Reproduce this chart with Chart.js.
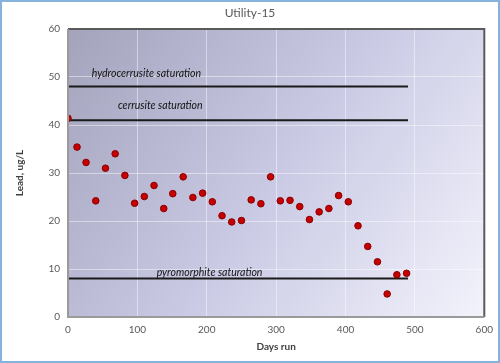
<!DOCTYPE html>
<html>
<head>
<meta charset="utf-8">
<script src="https://cdn.jsdelivr.net/npm/chart.js@4"></script>
<style>
  html, body { margin: 0; padding: 0; background: #fff; }
  #wrap { width: 500px; height: 363px; }
</style>
</head>
<body>
<div id="wrap"><canvas id="chart" width="500" height="363"></canvas></div>
<script>
const days = [0, 13, 26, 40, 54, 68, 82, 96, 110, 124, 138, 151, 166, 180, 194, 208, 222, 236,
  250, 264, 278, 292, 306, 320, 334, 348, 362, 376, 390, 404, 418, 432, 446, 460, 474, 488];
const lead = [41.4, 35.4, 32.2, 24.2, 31.0, 34.0, 29.5, 23.7, 25.1, 27.4, 22.6, 25.7, 29.2, 24.9,
  25.8, 24.0, 21.1, 19.8, 20.1, 24.4, 23.6, 29.2, 24.2, 24.3, 23.0, 20.3, 21.9, 22.6, 25.3, 24.0,
  19.0, 14.7, 11.5, 4.8, 8.8, 9.1];

const satNames = ["hydrocerrusite saturation", "cerrusite saturation", "pyromorphite saturation"];
const satLevels = [48, 41, 8];
const satEnd = 490;
// where each label sits (days, ug/L), centre of text
const satLabelDays = [113, 133, 204];
const satLabelLead = [50.7, 44, 9.2];

const chartTitle = "Utility-15";
const ink = "#595959";

const satSets = satLevels.map(v => ({
  type: "line",
  data: [{ x: 0, y: v }, { x: satEnd, y: v }],
  borderColor: "#1a1a1a",
  borderWidth: 2,
  pointRadius: 0,
  showLine: true,
  order: 2
}));

const frame = {
  id: "frame",
  beforeDraw(chart) {
    const { ctx, chartArea: a } = chart;
    const g = ctx.createLinearGradient(a.left, a.top, a.right, a.bottom);
    g.addColorStop(0, "#a3a3bc");
    g.addColorStop(0.5, "#c9c9e4");
    g.addColorStop(1, "#f3f3fc");
    ctx.save();
    ctx.fillStyle = g;
    ctx.fillRect(a.left, a.top, a.right - a.left, a.bottom - a.top);
    ctx.restore();
  },
  afterDatasetsDraw(chart) {
    const { ctx, chartArea: a, scales: { x, y } } = chart;
    ctx.save();
    ctx.font = "italic 10.5px Lato";
    ctx.fillStyle = "#111";
    ctx.textAlign = "center";
    ctx.textBaseline = "middle";
    satNames.forEach((t, i) => {
      ctx.fillText(t, x.getPixelForValue(satLabelDays[i]), y.getPixelForValue(satLabelLead[i]));
    });
    ctx.font = "12px Lato";
    ctx.fillStyle = ink;
    ctx.fillText(chartTitle, 250, 13);
    // plot border
    ctx.lineWidth = 2;
    ctx.strokeStyle = "#5a5a5a";
    ctx.beginPath();
    ctx.moveTo(a.left, a.top); ctx.lineTo(a.right, a.top); ctx.lineTo(a.right, a.bottom);
    ctx.stroke();
    ctx.strokeStyle = "#9a9a9a";
    ctx.beginPath();
    ctx.moveTo(a.right, a.bottom); ctx.lineTo(a.left, a.bottom); ctx.lineTo(a.left, a.top);
    ctx.stroke();
    // outer chart border
    ctx.strokeStyle = "#86b2de";
    ctx.lineWidth = 2;
    ctx.strokeRect(1, 1, chart.width - 2, chart.height - 2);
    ctx.restore();
  }
};

new Chart(document.getElementById("chart"), {
  type: "scatter",
  data: {
    datasets: [{
      data: days.map((d, i) => ({ x: d, y: lead[i] })),
      backgroundColor: "#c40000",
      borderColor: "#8a0000",
      borderWidth: 1,
      pointRadius: 3.3,
      order: 1
    }, ...satSets]
  },
  options: {
    responsive: false,
    animation: false,
    events: [],
    layout: { padding: { left: 14, right: 10, top: 29, bottom: 10 } },
    plugins: {
      legend: { display: false },
      tooltip: { enabled: false },
      title: { display: false }
    },
    scales: {
      x: {
        type: "linear", min: 0, max: 600,
        ticks: { stepSize: 100, color: ink, font: { family: "Lato", size: 10 }, padding: 7 },
        grid: { color: "rgba(255,255,255,0.45)", drawTicks: false },
        border: { display: false },
        title: { display: true, text: "Days run", color: "#404040", font: { family: "Lato", size: 10, weight: "bold" }, padding: { top: 2, bottom: 0 } },
        afterFit: s => { s.height = 36; }
      },
      y: {
        min: 0, max: 60,
        ticks: { stepSize: 10, color: ink, font: { family: "Lato", size: 10 }, padding: 8 },
        grid: { color: "rgba(255,255,255,0.45)", drawTicks: false },
        border: { display: false },
        title: { display: true, text: "Lead, ug/L", color: "#404040", font: { family: "Lato", size: 10, weight: "bold" }, padding: 0 },
        afterFit: s => { s.width = 54; }
      }
    }
  },
  plugins: [frame]
});
</script>
</body>
</html>
